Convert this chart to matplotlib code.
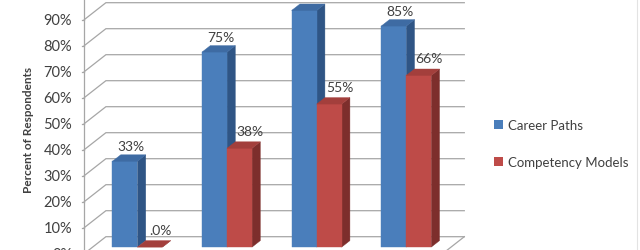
import numpy as np
import matplotlib.pyplot as plt
from matplotlib.patches import Polygon, Patch
from matplotlib.lines import Line2D

plt.rcParams['font.family'] = ['Lato', 'DejaVu Sans']

# values (category labels are cropped out of the reference)
career_paths = [33, 75, 91, 85]
competency_models = [0, 38, 55, 66]
career_labels = ["33%", "75%", "91%", "85%"]
competency_labels = [".0%", "38%", "55%", "66%"]
y_ticks = list(range(0, 101, 10))
series_names = ["Career Paths", "Competency Models"]

# pseudo 3d geometry (pixels per unit, depth offset)
PX = 89.6
PY = 2.6
DX = 21.7 / PX
DY = 17.0 / PY
D0, D1 = 0.39, 0.77
BW = 25.0 / PX

blue = ("#4A7EBB", "#3E6BA3", "#2F5585")
red = ("#BE4B48", "#A33F3C", "#7D2E2C")
grid_c = "#A6A6A6"
txt_c = "#404040"


def proj(x, v, d):
    return (x + d * DX, v + d * DY)


def bar3d(ax, x0, x1, v, cols, z):
    front = [proj(x0, 0, D0), proj(x1, 0, D0), proj(x1, v, D0), proj(x0, v, D0)]
    top = [proj(x0, v, D0), proj(x1, v, D0), proj(x1, v, D1), proj(x0, v, D1)]
    side = [proj(x1, 0, D0), proj(x1, v, D0), proj(x1, v, D1), proj(x1, 0, D1)]
    for pts, c in [(side, cols[2]), (front, cols[0]), (top, cols[1])]:
        ax.add_patch(Polygon(pts, closed=True, facecolor=c, edgecolor=c, lw=0.3, zorder=z))


fig = plt.figure(figsize=(6.4, 2.51), dpi=100)
ax = fig.add_axes([0, 0, 1, 1])
ax.set_xlim(-129 / PX, (640 - 129) / PX)
ax.set_ylim(3.7 / PY, 3.7 / PY + 251 / PY)
ax.axis("off")

# walls
for v in y_ticks:
    a = proj(-0.5, v, 0)
    b = proj(-0.5, v, 1)
    c = proj(3.5, v, 1)
    ax.plot([a[0], b[0], c[0]], [a[1], b[1], c[1]], color=grid_c, lw=0.9, zorder=1)
    ax.plot([-0.5 - 2.5 / PX, -0.5], [v, v], color=grid_c, lw=0.9, zorder=1)
    ax.text(-0.5 - 12 / PX, v, f"{v}%", ha="right", va="center", fontsize=10.5, color=txt_c)
a = proj(3.5, 0, 0)
b = proj(3.5, 0, 1)
ax.plot([a[0], b[0]], [a[1], b[1]], color=grid_c, lw=0.9, zorder=1)
ax.plot([-0.5, -0.5], [0, 100], color=grid_c, lw=0.9, zorder=1)

# bars
x = np.arange(len(career_paths))
for i in x:
    bar3d(ax, i - BW, i, career_paths[i], blue, 2 + i)
    bar3d(ax, i, i + BW, competency_models[i], red, 2 + i)
    ax.text(i - BW / 2 + D0 * DX + 6 / PX, career_paths[i] + D0 * DY + 15 / PY, career_labels[i],
            ha="center", va="center", fontsize=10, color=txt_c, zorder=10)
    ax.text(i + BW / 2 + D0 * DX + 10.5 / PX, competency_models[i] + D0 * DY + 17 / PY,
            competency_labels[i], ha="center", va="center", fontsize=10, color=txt_c, zorder=10)

fig.text(28 / 640, 1 - 130 / 251, "Percent of Respondents", rotation=90, ha="center",
         va="center", fontsize=8.5, fontweight="bold", color=txt_c)

handles = [Patch(facecolor=blue[0]), Patch(facecolor=red[0])]
fig.legend(handles, series_names, loc="center left", bbox_to_anchor=(494 / 640, 1 - 144.3 / 251),
           frameon=False, fontsize=9.5, handlelength=0.7, handleheight=0.7, handletextpad=0.35,
           labelspacing=1.9, borderpad=0, borderaxespad=0, labelcolor=txt_c)

fig.add_artist(Line2D([637 / 640, 637 / 640], [0, 1], color="#E3E3E3", lw=0.8))

fig.savefig("out.png", dpi=100)
